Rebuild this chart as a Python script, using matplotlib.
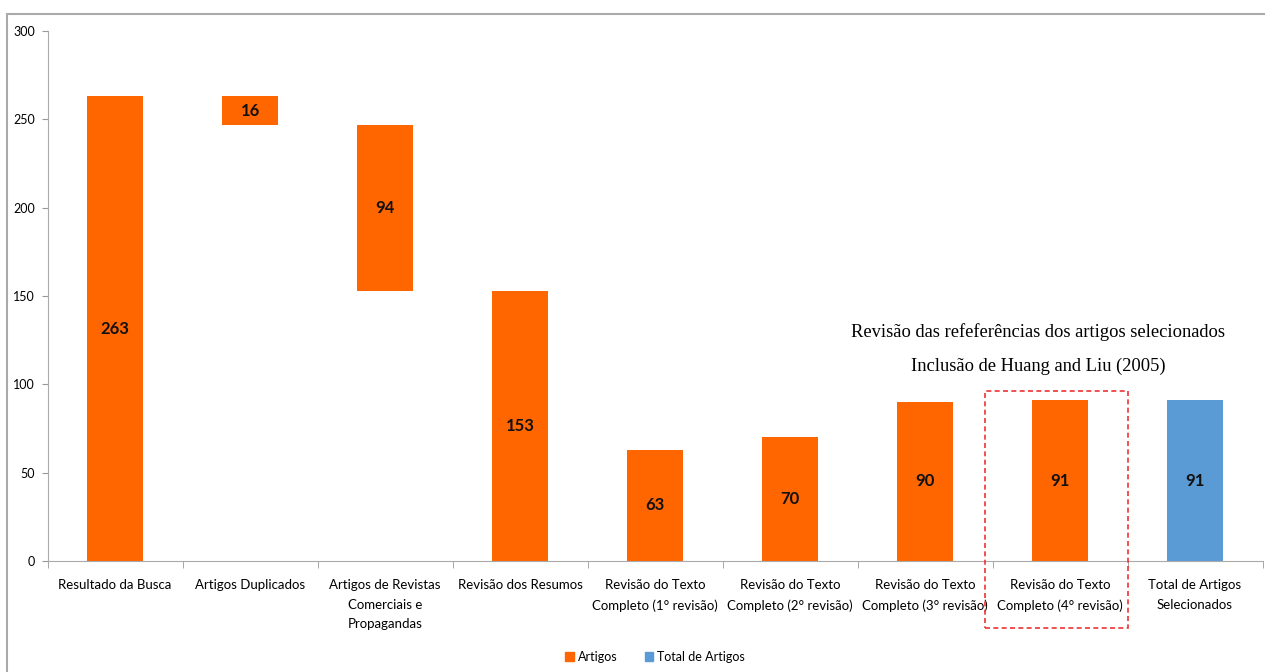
import matplotlib
matplotlib.use("Agg")
import matplotlib.pyplot as plt
from matplotlib.patches import Rectangle, Patch

categories = ["Resultado da Busca", "Artigos Duplicados",
              "Artigos de Revistas\nComerciais e\nPropagandas", "Revisão dos Resumos",
              "Revisão do Texto\nCompleto (1° revisão)", "Revisão do Texto\nCompleto (2° revisão)",
              "Revisão do Texto\nCompleto (3° revisão)", "Revisão do Texto\nCompleto (4° revisão)",
              "Total de Artigos\nSelecionados"]
bar_bottoms = [0, 247, 153, 0, 0, 0, 0, 0, 0]
bar_values = [263, 16, 94, 153, 63, 70, 90, 91, 91]
series = ["Artigos", "Artigos", "Artigos", "Artigos", "Artigos", "Artigos", "Artigos", "Artigos", "Total de Artigos"]
y_ticks = [0, 50, 100, 150, 200, 250, 300]
annot_lines = ["Revisão das refeferências dos artigos selecionados", "Inclusão de Huang and Liu (2005)"]

plt.rcParams["font.family"] = ["Lato", "DejaVu Sans"]

colors = {"Artigos": "#FF6600", "Total de Artigos": "#5B9BD5"}

fig = plt.figure(figsize=(12.65, 6.72), dpi=100)
ax = fig.add_axes([47.5/1265, 1-561/672, (1262.5-47.5)/1265, (561-31)/672])

x = list(range(len(categories)))
ax.bar(x, bar_values, bottom=bar_bottoms, width=0.41,
       color=[colors[s] for s in series], zorder=2)
for i, (b, v) in enumerate(zip(bar_bottoms, bar_values)):
    ax.text(i, b + v/2, str(v), ha="center", va="center", fontsize=12,
            fontweight="bold", color="#111111", zorder=3)

ax.set_xlim(-0.5, len(categories) - 0.5)
ax.set_ylim(0, 300)
ax.set_yticks(y_ticks)
ax.tick_params(axis="y", labelsize=9, length=4, color="#999999", pad=5)
ax.set_xticks(x)
ax.set_xticklabels(categories, fontsize=9.5, linespacing=1.75)
ax.tick_params(axis="x", length=0, pad=13)
ax.set_xticks([i + 0.5 for i in range(-1, len(categories))], minor=True)
ax.tick_params(axis="x", which="minor", length=5, color="#999999")
for s in ["top", "right"]:
    ax.spines[s].set_visible(False)
ax.spines["left"].set_color("#AAAAAA")
ax.spines["bottom"].set_color("#AAAAAA")

# annotation
ax.text(6.84, 129.6, annot_lines[0], ha="center", va="center",
        fontsize=13.3, family="Liberation Serif")
ax.text(6.84, 110.4, annot_lines[1], ha="center", va="center",
        fontsize=13.3, family="Liberation Serif")
ax.add_patch(Rectangle((6.445, -38), 1.06, 134.2, fill=False, edgecolor="#EE3333",
                       linestyle=(0, (3, 2)), linewidth=1.2, clip_on=False, zorder=4))

handles = [Patch(color=colors["Artigos"], label="Artigos"),
           Patch(color=colors["Total de Artigos"], label="Total de Artigos")]
fig.legend(handles=handles, loc="center", bbox_to_anchor=(655/1265, 1-657/672),
           ncol=2, frameon=False, fontsize=9, handlelength=0.7, handleheight=0.7,
           handletextpad=0.3, columnspacing=2.2)

# outer frame
fig.patches.append(Rectangle((7/1265, -0.05), 1.2, 1-14/672+0.05, transform=fig.transFigure,
                             fill=False, edgecolor="#AAAAAA", linewidth=1.5))

fig.savefig("out.png", dpi=100)
